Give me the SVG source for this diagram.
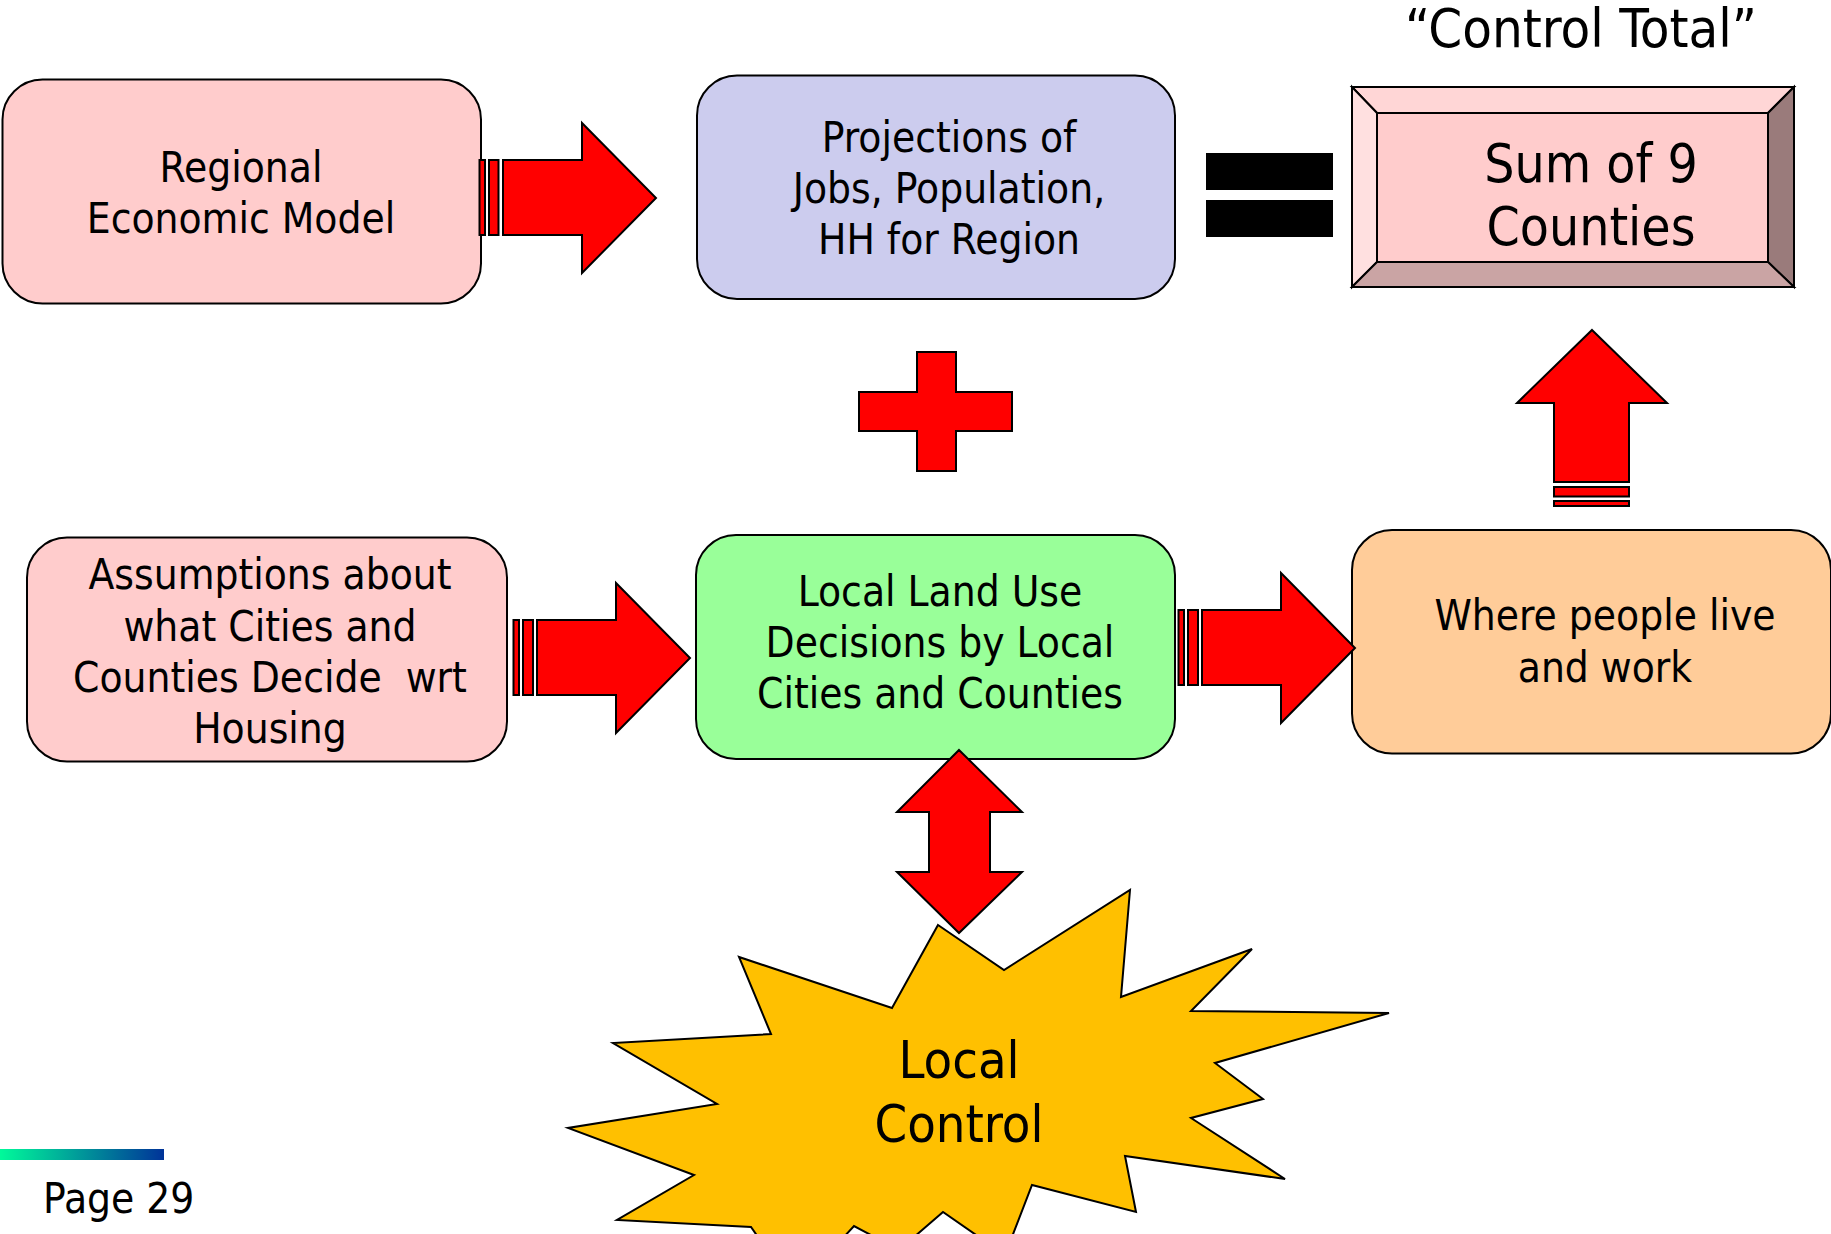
<svg xmlns="http://www.w3.org/2000/svg" width="1831" height="1234" viewBox="0 0 1831 1234">
<defs>
<style>
.t{font-family:"DejaVu Sans Condensed","DejaVu Sans","Liberation Sans",sans-serif;font-stretch:condensed;fill:#000;text-anchor:middle}
.box{stroke:#000;stroke-width:2}
.arr{fill:#FF0000;stroke:#000;stroke-width:2;stroke-linejoin:miter}
.m{font-size:42px}
</style>
<linearGradient id="bar" x1="0" y1="0" x2="1" y2="0">
<stop offset="0" stop-color="#00FA9A"/>
<stop offset="1" stop-color="#003399"/>
</linearGradient>
</defs>
<rect width="1831" height="1234" fill="#fff"/>

<g id="control-total-label">
<text class="t" x="1581" y="47" font-size="54">“Control Total”</text>
</g>

<g id="regional-economic-model">
<rect class="box" x="2.5" y="79.5" width="478.5" height="224" rx="40" fill="#FFCCCC"/>
<text class="t m" x="241" y="182">Regional</text>
<text class="t m" x="241" y="233">Economic Model</text>
</g>

<g id="projections">
<rect class="box" x="697" y="75.5" width="478" height="223.5" rx="40" fill="#CCCCEE"/>
<text class="t m" x="949" y="152">Projections of</text>
<text class="t m" x="949" y="203">Jobs, Population,</text>
<text class="t m" x="949" y="254">HH for Region</text>
</g>

<g id="equals">
<rect x="1206" y="153" width="127" height="37" fill="#000"/>
<rect x="1206" y="200" width="127" height="37" fill="#000"/>
</g>

<g id="sum-of-9-counties">
<polygon points="1352,87 1794,87 1768,113 1377,113" fill="#FFD6D6" stroke="#000" stroke-width="2"/>
<polygon points="1352,87 1377,113 1377,262 1352,287" fill="#FFE0E0" stroke="#000" stroke-width="2"/>
<polygon points="1794,87 1794,287 1768,262 1768,113" fill="#9A7B7B" stroke="#000" stroke-width="2"/>
<polygon points="1352,287 1377,262 1768,262 1794,287" fill="#CAA4A4" stroke="#000" stroke-width="2"/>
<rect x="1377" y="113" width="391" height="149" fill="#FFCCCC" stroke="#000" stroke-width="2"/>
<text class="t" x="1591" y="182" font-size="53">Sum of 9</text>
<text class="t" x="1591" y="245" font-size="53">Counties</text>
</g>

<g id="plus">
<polygon class="arr" points="917,352 956,352 956,392 1012,392 1012,431 956,431 956,471 917,471 917,431 859,431 859,392 917,392"/>
</g>

<g id="assumptions">
<rect class="box" x="27" y="537.5" width="480" height="224" rx="40" fill="#FFCCCC"/>
<text class="t m" x="270" y="589">Assumptions about</text>
<text class="t m" x="270" y="641">what Cities and</text>
<text class="t m" x="270" y="692" xml:space="preserve">Counties Decide  wrt</text>
<text class="t m" x="270" y="743">Housing</text>
</g>

<g id="local-land-use">
<rect class="box" x="696" y="535" width="479" height="224" rx="40" fill="#99FF99"/>
<text class="t m" x="940" y="606">Local Land Use</text>
<text class="t m" x="940" y="657">Decisions by Local</text>
<text class="t m" x="940" y="708">Cities and Counties</text>
</g>

<g id="where-people-live">
<rect class="box" x="1352" y="530" width="479" height="223.5" rx="40" fill="#FFCC99"/>
<text class="t m" x="1605" y="630">Where people live</text>
<text class="t m" x="1605" y="682">and work</text>
</g>

<g id="local-control">
<polygon points="938,925 1004,970 1130,890 1121,997 1252,949 1191,1011 1389,1013 1215,1063 1263,1099 1191,1118 1285,1179 1125,1156 1136,1212 1032,1185 1005,1255 943,1212 899,1250 854,1226 795,1290 751,1227 617,1220 694,1175 568,1128 717,1104 613,1043 771,1034 739,957 892,1008" fill="#FFC000" stroke="#000" stroke-width="2" stroke-linejoin="miter"/>
<text class="t" x="959" y="1078" font-size="52">Local</text>
<text class="t" x="959" y="1142" font-size="52">Control</text>
</g>

<g id="connectors">
<g id="arrow-regional-projections">
<rect class="arr" x="479.5" y="160" width="5.5" height="75"/>
<rect class="arr" x="489" y="160" width="9.5" height="75"/>
<polygon class="arr" points="503,160 582,160 582,123 656,198 582,273 582,235 503,235"/>
</g>
<g id="arrow-assumptions-local">
<rect class="arr" x="513.5" y="620" width="5.5" height="75"/>
<rect class="arr" x="523" y="620" width="10" height="75"/>
<polygon class="arr" points="537,620 616,620 616,583 690,658 616,733 616,695 537,695"/>
</g>
<g id="arrow-local-where">
<rect class="arr" x="1178.5" y="610" width="5.5" height="75"/>
<rect class="arr" x="1188" y="610" width="10" height="75"/>
<polygon class="arr" points="1202,610 1281,610 1281,573 1355,648 1281,723 1281,685 1202,685"/>
</g>
<g id="arrow-where-sum">
<polygon class="arr" points="1592,330 1667,403 1629,403 1629,482 1554,482 1554,403 1517,403"/>
<rect class="arr" x="1554" y="487" width="75" height="9.5"/>
<rect class="arr" x="1554" y="501" width="75" height="5"/>
</g>
<g id="arrow-local-control">
<polygon class="arr" points="959,750 1022,812 990,812 990,872 1022,872 959,933 897,872 929,872 929,812 897,812"/>
</g>
</g>

<g id="footer">
<rect x="0" y="1149" width="164" height="11" fill="url(#bar)"/>
<text x="43" y="1213" font-size="42" style="font-family:'DejaVu Sans Condensed','DejaVu Sans','Liberation Sans',sans-serif;font-stretch:condensed">Page 29</text>
</g>
</svg>
